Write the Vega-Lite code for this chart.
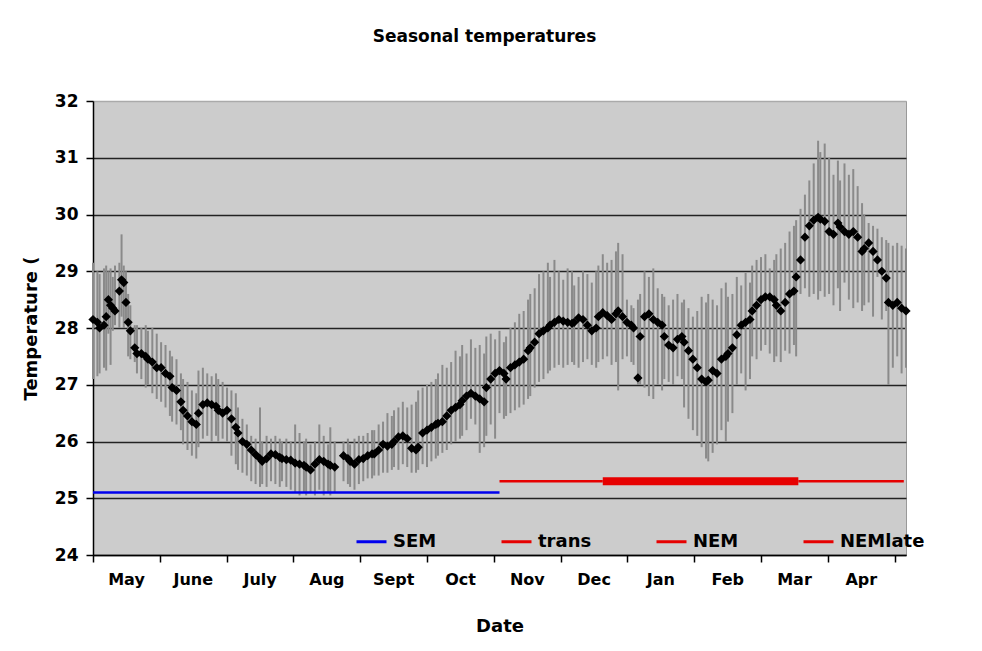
{
  "$schema": "https://vega.github.io/schema/vega-lite/v6.json",
  "width": 813,
  "height": 454,
  "autosize": {"type": "none"},
  "padding": {"left": 93, "top": 101, "right": 76, "bottom": 96},
  "background": "white",
  "title": {"text": "Seasonal temperatures", "fontSize": 17, "fontWeight": "bold", "font": "DejaVu Sans", "color": "black", "offset": 46, "dx": -15, "anchor": "middle"},
  "config": {
    "view": {"fill": "#cccccc", "stroke": "#999999"},
    "axis": {"labelFont": "DejaVu Sans", "titleFont": "DejaVu Sans", "labelColor": "black", "titleColor": "black", "labelFontWeight": "bold", "titleFontWeight": "bold"}
  },
  "datasets": {
    "temps": [
      {"day":0,"t":28.15,"lo":27.1,"hi":29.15},{"day":2,"t":28.1,"lo":27.15,"hi":29.0},{"day":3,"t":28.0,"lo":27.2,"hi":28.95},{"day":5,"t":28.05,"lo":27.3,"hi":29.05},{"day":6,"t":28.2,"lo":27.25,"hi":29.1},{"day":7,"t":28.5,"lo":27.9,"hi":29.0},{"day":8,"t":28.4,"lo":27.35,"hi":29.05},{"day":9,"t":28.35,"lo":27.95,"hi":28.9},{"day":10,"t":28.3,"lo":28.05,"hi":29.1},{"day":12,"t":28.65,"lo":28.0,"hi":29.15},{"day":13,"t":28.85,"lo":28.2,"hi":29.65},{"day":14,"t":28.8,"lo":28.0,"hi":29.1},{"day":15,"t":28.45,"lo":28.1,"hi":29.0},{"day":16,"t":28.1,"lo":27.5,"hi":28.6},{"day":17,"t":27.95,"lo":27.45,"hi":28.4},{"day":19,"t":27.65,"lo":27.4,"hi":28.05},{"day":20,"t":27.55,"lo":27.2,"hi":28.05},{"day":22,"t":27.55,"lo":27.1,"hi":28.0},{"day":24,"t":27.5,"lo":26.95,"hi":28.05},{"day":25,"t":27.45,"lo":27.0,"hi":27.95},{"day":27,"t":27.4,"lo":26.85,"hi":28.0},{"day":29,"t":27.3,"lo":26.75,"hi":27.9},{"day":31,"t":27.3,"lo":26.7,"hi":27.75},{"day":33,"t":27.2,"lo":26.6,"hi":27.7},{"day":35,"t":27.15,"lo":26.45,"hi":27.6},{"day":36,"t":26.95,"lo":26.35,"hi":27.5},{"day":38,"t":26.9,"lo":26.3,"hi":27.45},{"day":40,"t":26.7,"lo":26.2,"hi":27.2},{"day":41,"t":26.55,"lo":25.95,"hi":27.1},{"day":43,"t":26.45,"lo":25.85,"hi":27.05},{"day":45,"t":26.35,"lo":25.75,"hi":26.9},{"day":47,"t":26.3,"lo":25.7,"hi":26.85},{"day":48,"t":26.5,"lo":25.9,"hi":27.25},{"day":50,"t":26.65,"lo":26.05,"hi":27.3},{"day":52,"t":26.68,"lo":26.1,"hi":27.2},{"day":54,"t":26.65,"lo":26.0,"hi":27.15},{"day":56,"t":26.62,"lo":26.1,"hi":27.2},{"day":57,"t":26.55,"lo":26.0,"hi":27.1},{"day":59,"t":26.5,"lo":26.05,"hi":27.05},{"day":61,"t":26.55,"lo":26.0,"hi":26.95},{"day":63,"t":26.4,"lo":25.75,"hi":26.9},{"day":65,"t":26.25,"lo":25.6,"hi":26.85},{"day":66,"t":26.15,"lo":25.5,"hi":26.6},{"day":68,"t":26.0,"lo":25.45,"hi":26.4},{"day":70,"t":25.95,"lo":25.4,"hi":26.3},{"day":72,"t":25.85,"lo":25.3,"hi":26.1},{"day":74,"t":25.77,"lo":25.25,"hi":26.05},{"day":76,"t":25.7,"lo":25.2,"hi":26.6},{"day":77,"t":25.65,"lo":25.25,"hi":26.0},{"day":79,"t":25.7,"lo":25.2,"hi":26.1},{"day":81,"t":25.78,"lo":25.3,"hi":26.05},{"day":83,"t":25.77,"lo":25.25,"hi":26.1},{"day":85,"t":25.72,"lo":25.2,"hi":26.05},{"day":86,"t":25.7,"lo":25.3,"hi":26.0},{"day":88,"t":25.68,"lo":25.2,"hi":26.05},{"day":90,"t":25.67,"lo":25.15,"hi":26.0},{"day":92,"t":25.62,"lo":25.1,"hi":26.3},{"day":94,"t":25.6,"lo":25.05,"hi":26.15},{"day":96,"t":25.58,"lo":25.1,"hi":26.0},{"day":97,"t":25.55,"lo":25.05,"hi":26.05},{"day":99,"t":25.5,"lo":25.1,"hi":25.95},{"day":101,"t":25.6,"lo":25.05,"hi":26.0},{"day":103,"t":25.68,"lo":25.15,"hi":26.3},{"day":105,"t":25.65,"lo":25.05,"hi":26.1},{"day":107,"t":25.6,"lo":25.1,"hi":25.95},{"day":108,"t":25.58,"lo":25.05,"hi":26.25},{"day":110,"t":25.55,"lo":25.1,"hi":26.0},{"day":114,"t":25.75,"lo":25.3,"hi":26.0},{"day":116,"t":25.7,"lo":25.25,"hi":26.05},{"day":117,"t":25.65,"lo":25.2,"hi":25.95},{"day":119,"t":25.6,"lo":25.15,"hi":26.05},{"day":121,"t":25.68,"lo":25.25,"hi":26.1},{"day":123,"t":25.7,"lo":25.3,"hi":26.1},{"day":125,"t":25.75,"lo":25.35,"hi":26.15},{"day":127,"t":25.78,"lo":25.35,"hi":26.2},{"day":128,"t":25.78,"lo":25.4,"hi":26.2},{"day":130,"t":25.85,"lo":25.4,"hi":26.3},{"day":132,"t":25.95,"lo":25.45,"hi":26.35},{"day":134,"t":25.92,"lo":25.45,"hi":26.5},{"day":136,"t":25.95,"lo":25.5,"hi":26.45},{"day":137,"t":26.0,"lo":25.55,"hi":26.55},{"day":139,"t":26.08,"lo":25.5,"hi":26.6},{"day":141,"t":26.1,"lo":25.6,"hi":26.7},{"day":143,"t":26.05,"lo":25.55,"hi":26.6},{"day":145,"t":25.88,"lo":25.45,"hi":26.65},{"day":147,"t":25.85,"lo":25.45,"hi":26.7},{"day":148,"t":25.9,"lo":25.5,"hi":26.9},{"day":150,"t":26.15,"lo":25.6,"hi":26.95},{"day":152,"t":26.2,"lo":25.55,"hi":27.0},{"day":154,"t":26.25,"lo":25.65,"hi":27.05},{"day":156,"t":26.3,"lo":25.7,"hi":27.1},{"day":157,"t":26.32,"lo":25.75,"hi":27.2},{"day":159,"t":26.35,"lo":25.8,"hi":27.35},{"day":161,"t":26.45,"lo":25.85,"hi":27.3},{"day":163,"t":26.55,"lo":25.95,"hi":27.4},{"day":165,"t":26.6,"lo":26.0,"hi":27.6},{"day":167,"t":26.65,"lo":26.05,"hi":27.5},{"day":168,"t":26.72,"lo":26.1,"hi":27.7},{"day":170,"t":26.8,"lo":26.2,"hi":27.55},{"day":172,"t":26.85,"lo":26.4,"hi":27.8},{"day":174,"t":26.8,"lo":26.3,"hi":27.65},{"day":176,"t":26.75,"lo":25.8,"hi":27.7},{"day":178,"t":26.7,"lo":25.9,"hi":27.55},{"day":179,"t":26.95,"lo":26.1,"hi":27.85},{"day":181,"t":27.1,"lo":26.3,"hi":27.9},{"day":183,"t":27.2,"lo":26.05,"hi":27.8},{"day":185,"t":27.25,"lo":26.5,"hi":27.95},{"day":187,"t":27.2,"lo":26.4,"hi":27.75},{"day":188,"t":27.1,"lo":26.45,"hi":27.85},{"day":190,"t":27.3,"lo":26.5,"hi":28.0},{"day":192,"t":27.35,"lo":26.55,"hi":28.1},{"day":194,"t":27.4,"lo":26.6,"hi":28.25},{"day":196,"t":27.45,"lo":26.65,"hi":28.3},{"day":198,"t":27.6,"lo":26.75,"hi":28.5},{"day":199,"t":27.65,"lo":26.8,"hi":28.6},{"day":201,"t":27.75,"lo":26.95,"hi":28.7},{"day":203,"t":27.9,"lo":27.05,"hi":28.95},{"day":205,"t":27.95,"lo":27.1,"hi":29.0},{"day":207,"t":28.0,"lo":27.2,"hi":29.15},{"day":208,"t":28.05,"lo":27.25,"hi":28.9},{"day":210,"t":28.1,"lo":27.3,"hi":29.2},{"day":212,"t":28.15,"lo":27.35,"hi":29.0},{"day":214,"t":28.12,"lo":27.3,"hi":28.85},{"day":216,"t":28.1,"lo":27.35,"hi":29.05},{"day":218,"t":28.08,"lo":27.4,"hi":29.0},{"day":219,"t":28.1,"lo":27.35,"hi":28.75},{"day":221,"t":28.18,"lo":27.3,"hi":28.9},{"day":223,"t":28.15,"lo":27.4,"hi":29.0},{"day":225,"t":28.05,"lo":27.45,"hi":28.95},{"day":227,"t":27.95,"lo":27.35,"hi":28.8},{"day":229,"t":28.0,"lo":27.3,"hi":29.0},{"day":230,"t":28.2,"lo":27.4,"hi":29.1},{"day":232,"t":28.27,"lo":27.45,"hi":29.3},{"day":234,"t":28.22,"lo":27.5,"hi":29.15},{"day":236,"t":28.15,"lo":27.35,"hi":29.2},{"day":238,"t":28.25,"lo":27.4,"hi":29.35},{"day":239,"t":28.3,"lo":26.9,"hi":29.5},{"day":241,"t":28.2,"lo":27.45,"hi":29.3},{"day":243,"t":28.1,"lo":27.5,"hi":28.5},{"day":245,"t":28.05,"lo":27.4,"hi":28.4},{"day":246,"t":28.0,"lo":27.35,"hi":28.35},{"day":248,"t":27.12,"lo":27.0,"hi":28.5},{"day":249,"t":27.85,"lo":27.0,"hi":28.6},{"day":251,"t":28.2,"lo":26.95,"hi":29.0},{"day":253,"t":28.25,"lo":26.8,"hi":28.9},{"day":255,"t":28.15,"lo":26.75,"hi":29.05},{"day":257,"t":28.1,"lo":27.0,"hi":28.7},{"day":259,"t":28.05,"lo":26.9,"hi":28.6},{"day":260,"t":27.85,"lo":27.1,"hi":28.55},{"day":262,"t":27.7,"lo":27.05,"hi":28.4},{"day":264,"t":27.65,"lo":27.0,"hi":28.5},{"day":266,"t":27.8,"lo":27.15,"hi":28.6},{"day":268,"t":27.85,"lo":27.1,"hi":28.45},{"day":269,"t":27.75,"lo":26.6,"hi":28.5},{"day":271,"t":27.6,"lo":26.4,"hi":28.35},{"day":273,"t":27.45,"lo":26.2,"hi":28.2},{"day":275,"t":27.3,"lo":26.1,"hi":28.3},{"day":277,"t":27.1,"lo":25.9,"hi":28.55},{"day":279,"t":27.05,"lo":25.7,"hi":28.45},{"day":280,"t":27.08,"lo":25.65,"hi":28.6},{"day":282,"t":27.25,"lo":25.8,"hi":28.5},{"day":284,"t":27.2,"lo":25.95,"hi":28.4},{"day":286,"t":27.45,"lo":26.2,"hi":28.7},{"day":288,"t":27.5,"lo":26.0,"hi":28.8},{"day":289,"t":27.55,"lo":26.35,"hi":28.55},{"day":291,"t":27.65,"lo":26.5,"hi":28.6},{"day":293,"t":27.88,"lo":27.0,"hi":28.9},{"day":295,"t":28.05,"lo":27.2,"hi":28.75},{"day":297,"t":28.1,"lo":26.9,"hi":28.97},{"day":299,"t":28.15,"lo":27.1,"hi":28.8},{"day":300,"t":28.3,"lo":27.5,"hi":29.1},{"day":302,"t":28.4,"lo":27.45,"hi":29.2},{"day":304,"t":28.5,"lo":27.6,"hi":29.25},{"day":306,"t":28.55,"lo":27.7,"hi":29.3},{"day":308,"t":28.55,"lo":27.55,"hi":29.05},{"day":310,"t":28.5,"lo":27.4,"hi":29.2},{"day":311,"t":28.4,"lo":27.5,"hi":29.3},{"day":313,"t":28.3,"lo":27.4,"hi":29.4},{"day":315,"t":28.45,"lo":27.6,"hi":29.5},{"day":317,"t":28.6,"lo":27.55,"hi":29.7},{"day":319,"t":28.65,"lo":27.7,"hi":29.8},{"day":320,"t":28.9,"lo":27.5,"hi":29.9},{"day":322,"t":29.2,"lo":28.6,"hi":30.1},{"day":324,"t":29.6,"lo":28.7,"hi":30.35},{"day":326,"t":29.8,"lo":28.55,"hi":30.6},{"day":328,"t":29.9,"lo":28.6,"hi":30.9},{"day":330,"t":29.95,"lo":28.5,"hi":31.3},{"day":331,"t":29.92,"lo":28.65,"hi":31.1},{"day":333,"t":29.88,"lo":28.55,"hi":31.25},{"day":335,"t":29.7,"lo":28.6,"hi":31.0},{"day":337,"t":29.65,"lo":28.4,"hi":30.7},{"day":339,"t":29.85,"lo":28.7,"hi":30.95},{"day":340,"t":29.78,"lo":28.3,"hi":30.6},{"day":342,"t":29.7,"lo":28.8,"hi":30.9},{"day":344,"t":29.65,"lo":28.5,"hi":30.7},{"day":346,"t":29.7,"lo":28.35,"hi":30.8},{"day":348,"t":29.6,"lo":28.45,"hi":30.5},{"day":350,"t":29.35,"lo":28.3,"hi":30.2},{"day":351,"t":29.4,"lo":28.4,"hi":30.0},{"day":353,"t":29.5,"lo":28.45,"hi":29.85},{"day":355,"t":29.35,"lo":28.2,"hi":29.8},{"day":357,"t":29.2,"lo":28.9,"hi":29.75},{"day":359,"t":29.0,"lo":28.15,"hi":29.6},{"day":361,"t":28.88,"lo":28.3,"hi":29.55},{"day":362,"t":28.45,"lo":27.0,"hi":29.5},{"day":364,"t":28.4,"lo":27.3,"hi":29.45},{"day":366,"t":28.45,"lo":27.5,"hi":29.5},{"day":368,"t":28.35,"lo":27.2,"hi":29.45},{"day":370,"t":28.3,"lo":27.3,"hi":29.4}
    ],
    "segs": [
      {"seg": "SEM", "start": 0, "end": 185, "level": 25.1},
      {"seg": "trans", "start": 185, "end": 232, "level": 25.3},
      {"seg": "NEM", "start": 232, "end": 321, "level": 25.3},
      {"seg": "NEMlate", "start": 321, "end": 369, "level": 25.3}
    ]
  },
  "layer": [
    {
      "data": {"name": "temps"},
      "mark": {"type": "rule", "color": "#8a8a8a", "strokeWidth": 2},
      "encoding": {
        "x": {
          "field": "day", "type": "quantitative", "title": "Date",
          "scale": {"domain": [0, 370], "nice": false, "zero": false},
          "axis": {
            "values": [0, 30.4, 60.8, 91.2, 121.6, 152, 182.4, 212.8, 243.2, 273.6, 304, 334.4, 364.8],
            "labelExpr": "['May','June','July','Aug','Sept','Oct','Nov','Dec','Jan','Feb','Mar','Apr',''][round(datum.value / 30.4)]",
            "labelOffset": 33, "labelFlush": false, "labelOverlap": false, "labelBound": false,
            "grid": false, "tickSize": 7, "tickColor": "black", "tickWidth": 1.5,
            "domainColor": "black", "domainWidth": 1.5,
            "labelFontSize": 16, "labelPadding": 9,
            "titleFontSize": 18, "titlePadding": 30
          }
        },
        "y": {
          "field": "lo", "type": "quantitative", "title": "Temperature (",
          "scale": {"domain": [24, 32], "nice": false, "zero": false},
          "axis": {
            "values": [24, 25, 26, 27, 28, 29, 30, 31, 32],
            "format": "d",
            "grid": true,
            "gridColor": {"condition": {"test": "datum.value === 32", "value": "#aaaaaa"}, "value": "#222222"},
            "gridWidth": 1.5,
            "tickSize": 7, "tickColor": "black", "tickWidth": 1.5,
            "domainColor": "black", "domainWidth": 1.5,
            "labelFontSize": 17, "labelPadding": 8,
            "titleFontSize": 18, "titlePadding": 14
          }
        },
        "y2": {"field": "hi"}
      }
    },
    {
      "data": {"name": "temps"},
      "mark": {"type": "point", "shape": "diamond", "filled": true, "color": "black", "size": 85, "opacity": 1},
      "encoding": {
        "x": {"field": "day", "type": "quantitative", "title": "Date"},
        "y": {"field": "t", "type": "quantitative", "title": "Temperature ("}
      }
    },
    {
      "data": {"name": "segs"},
      "mark": {"type": "rule"},
      "encoding": {
        "x": {"field": "start", "type": "quantitative", "title": "Date"},
        "x2": {"field": "end"},
        "y": {"field": "level", "type": "quantitative", "title": "Temperature ("},
        "color": {
          "field": "seg", "type": "nominal",
          "scale": {"domain": ["SEM", "trans", "NEM", "NEMlate"], "range": ["#0000ee", "#e60000", "#e60000", "#e60000"]},
          "legend": {
            "orient": "none", "legendX": 262, "legendY": 424, "direction": "horizontal", "columns": 4,
            "columnPadding": 58, "symbolType": "stroke", "symbolSize": 900, "symbolStrokeWidth": 3,
            "labelFontSize": 18, "labelFontWeight": "bold", "labelFont": "DejaVu Sans", "labelColor": "black",
            "labelOffset": 5, "labelLimit": 200, "title": null, "padding": 0
          }
        },
        "strokeWidth": {"condition": {"test": "datum.seg === 'NEM'", "value": 8}, "value": 2.5}
      }
    }
  ]
}
